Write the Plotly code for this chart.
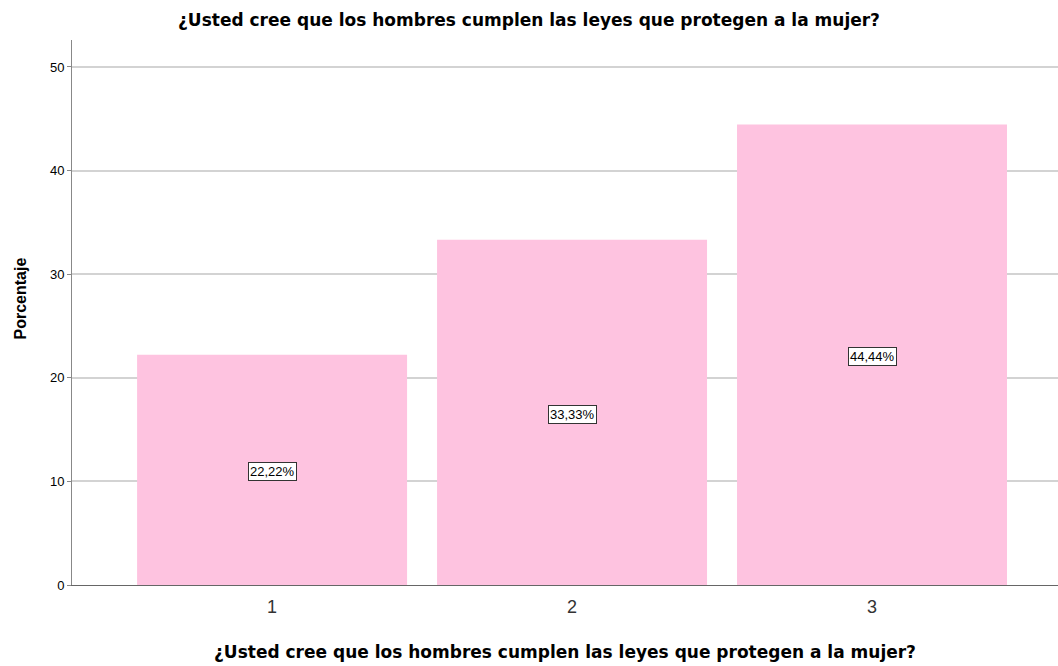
import plotly.graph_objects as go

categories = ["1", "2", "3"]
percentages = [22.22, 33.33, 44.44]
labels = ["22,22%", "33,33%", "44,44%"]
y_ticks = [0, 10, 20, 30, 40, 50]

title = "¿Usted cree que los hombres cumplen las leyes que protegen a la mujer?"
y_title = "Porcentaje"
title_font = dict(family="DejaVu Sans", size=17, color="#000000")

fig = go.Figure()
fig.add_trace(go.Bar(
    x=categories, y=percentages, width=0.9,
    marker=dict(color="#FEC3E0", line=dict(width=0)),
    hoverinfo="skip",
))

for i, (v, t) in enumerate(zip(percentages, labels)):
    fig.add_annotation(
        x=i, y=v / 2, text=t, showarrow=False, yshift=-2,
        font=dict(family="Arial", size=13, color="#000000"),
        bgcolor="#FFFFFF", bordercolor="#333333", borderwidth=1, borderpad=1,
    )

# y-axis title as a rotated annotation
fig.add_annotation(
    xref="paper", yref="paper", x=0, y=0.5, xanchor="center", yanchor="middle",
    xshift=-52, yshift=14, textangle=-90, showarrow=False,
    text="<b>" + y_title + "</b>",
    font=dict(family="Arial", size=16, color="#000000"),
)

fig.update_layout(
    width=1058, height=666,
    margin=dict(l=72, r=0, t=40, b=81),
    paper_bgcolor="white", plot_bgcolor="white",
    showlegend=False,
    title=dict(text="<b>" + title + "</b>", x=0.5, xanchor="center", y=1 - 20 / 666, yanchor="middle",
               font=title_font),
    bargap=0.1,
)
fig.update_xaxes(
    type="category", range=[-0.667, 2.62], automargin=False,
    showline=True, linecolor="#666666", linewidth=1,
    ticks="", ticklabelstandoff=5,
    tickfont=dict(family="Arial", size=18, color="#333333"),
    showgrid=False, zeroline=False,
    title=dict(text="<b>" + title + "</b>", font=title_font, standoff=30),
)
fig.update_yaxes(
    range=[0, 52.6], tickvals=y_ticks, automargin=False,
    showline=True, linecolor="#888888", linewidth=1,
    ticks="outside", ticklen=4, tickcolor="#888888",
    tickfont=dict(family="Arial", size=13, color="#000000"),
    showgrid=True, gridcolor="#D3D3D3", gridwidth=1.5, zeroline=False,
)

fig.write_html("out.html", config={"displayModeBar": False},
               post_script="document.body.style.margin='0';")
